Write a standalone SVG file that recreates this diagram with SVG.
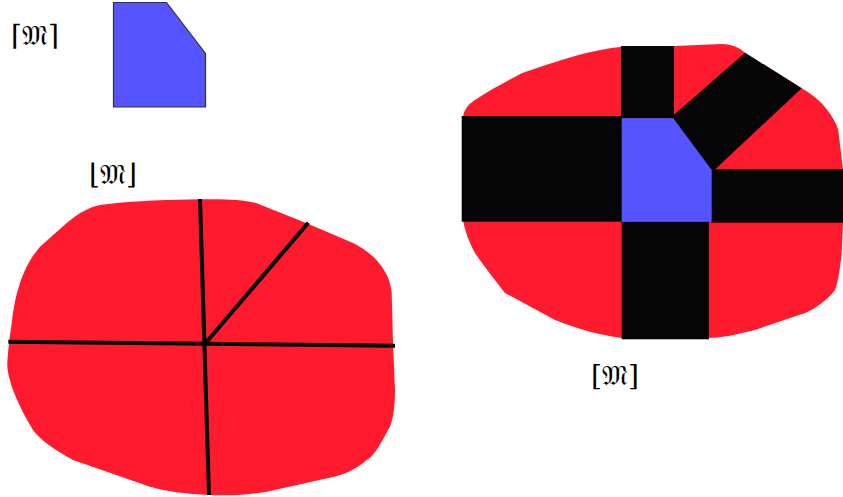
<svg xmlns="http://www.w3.org/2000/svg" width="843" height="497" viewBox="0 0 843 497">
<style>
.red{fill:#ff1b2d}
.blk{fill:#050505}
.blue{fill:#5555ff}
.cut{stroke:#000;stroke-width:4;fill:none}
.lbl{font-family:"DejaVu Serif","Liberation Serif",serif;font-size:28px;fill:#000;text-anchor:middle}
</style>
<rect width="843" height="497" fill="#fff"/>
<g id="small-piece">
<polygon class="blue" points="113.5,2.5 166.5,2.5 205.5,53.5 205.5,107 113.5,107" stroke="#333" stroke-width="1.2"/>
</g>
<text class="lbl" x="35" y="45">⌈𝔐⌉</text>
<text class="lbl" x="113" y="184">⌊𝔐⌋</text>
<text class="lbl" x="615" y="385">[𝔐]</text>
<g id="left-blob">
<path class="red" d="M100,205 C140,200 170,200 200,199.3 C225,199 240,199 256.7,203.3 L306.7,223.3 L353,243 C372,252 390,270 391.7,293 L393,343 L395,390 C395,410 392,425 388,430 C380,445 375,455 366.7,460 C355,470 345,474 333,477 L266.7,491.7 C245,495 225,496 210,495 C185,494 165,491 150,486.7 L73,460 C55,450 40,440 33,430 C22,412 17,400 13,390 C9,378 7,370 7.3,363 C8,350 10,335 11.7,323 C14,305 16,295 20,283 C26,265 33,255 40,246.7 L66.7,223 C80,212 90,207 100,205 Z"/>
<line class="cut" x1="200" y1="199" x2="209" y2="495"/>
<line class="cut" x1="8.3" y1="341.7" x2="395" y2="345.7"/>
<line class="cut" x1="206.7" y1="341.7" x2="308.3" y2="222.7"/>
</g>
<g id="right-blob">
<path class="red" d="M463.3,115 C465,108 470,103 475,100 C490,90 505,82 521.7,73.3 C560,60 590,50 621.7,46.7 L675,46 L721.7,44 C732,44 740,48 745,52.7 L801.7,88.3 C810,93 816,98 821.7,103.3 C830,113 835,120 838.3,130 L843,170 L843,223 L841.7,253 C840,270 838,282 835,290 C830,296 826,300 821.7,303 C815,308 810,311 805,313 L755,330 C735,335 720,338 708,338 L621.7,338 C600,335 580,330 555,320 L505,293 C495,280 483,265 475,253 C468,240 465,230 463.3,221.7 Z"/>
<rect class="blk" x="621" y="46" width="53" height="72.5"/>
<rect class="blk" x="461.7" y="116" width="160.3" height="105.7"/>
<rect class="blk" x="711" y="169.3" width="132" height="53.4"/>
<rect class="blk" x="621.7" y="221.5" width="87.3" height="117.8"/>
<polygon class="blk" points="670,118.3 745,52.7 801.7,88.3 715,169.5 711,169.5"/>
<polygon class="blue" points="621.7,118.3 673.3,118.3 711.7,170 711.7,221.7 621.7,221.7"/>
</g>
</svg>
